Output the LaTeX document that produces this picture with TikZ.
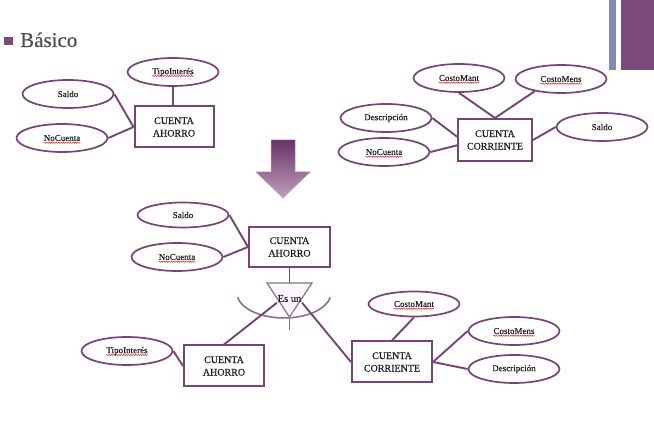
\documentclass[tikz,border=0pt]{standalone}
\usepackage{fontspec}
\setmainfont{Liberation Serif}
% regular serif, slightly thickened for the labels
\newfontfamily\labelfont{Liberation Serif}[BoldFont={Liberation Serif}, BoldFeatures={FakeBold=0.4}]
\usetikzlibrary{shapes.geometric,decorations.pathmorphing}

\definecolor{plum}{HTML}{76447A}
\definecolor{plumbar}{HTML}{7B4A7D}
\definecolor{slatebar}{HTML}{8488B4}
\definecolor{arcgray}{HTML}{8A7089}
\definecolor{titlegray}{HTML}{4D4D4D}
\definecolor{arrowdark}{HTML}{683266}
\definecolor{arrowlight}{HTML}{BFA0BE}
\definecolor{arrowedge}{HTML}{B89AB8}
\definecolor{spellred}{HTML}{E03030}
\definecolor{ink}{HTML}{1E1E1E}

\begin{document}
\begin{tikzpicture}[x=1pt,y=-1pt,
  attr/.style={ellipse, draw=plum, line width=1.7pt, fill=white,
    minimum width=91pt, minimum height=28pt, inner sep=0pt,
    text=ink, font=\labelfont\bfseries\fontsize{9}{10}\selectfont},
  word/.style={inner sep=0pt, text=ink, font=\labelfont\bfseries\fontsize{9}{10}\selectfont},
  squiggle/.style={draw=spellred, line width=0.55pt,
    decorate, decoration={snake, segment length=2.4pt, amplitude=0.6pt}},
  entity/.style={rectangle, draw=plum, line width=2pt, fill=white,
    minimum width=80pt, minimum height=41pt, align=center, text=ink,
    font=\labelfont\bfseries\fontsize{10}{12.5}\selectfont},
  link/.style={draw=plum, line width=1.9pt},
  arcline/.style={draw=arcgray, line width=1.6pt},
]
\useasboundingbox (0,0) rectangle (654,427);
\fill[white] (0,0) rectangle (654,427);

% heading
\fill[plumbar] (4,37) rectangle (13,45);
\node[anchor=base west, text=titlegray, font=\labelfont\bfseries\fontsize{21}{24}\selectfont, inner sep=0pt] (title) at (20,47) {Básico};

% corner bars
\fill[slatebar] (609,0) rectangle (616,70);
\fill[plumbar] (621,0) rectangle (654,70);

% ---- CUENTA AHORRO (upper left)
\node[attr] (saldoA) at (68,94) {Saldo};
\node[attr] (nocA) at (62,138) {};
\node[word] (nocAw) at (nocA) {NoCuenta};
\node[attr] (tipoA) at (173,72) {};
\node[word] (tipoAw) at (tipoA) {TipoInterés};
\node[entity, minimum width=79pt] (ahorroA) at (174,127) {CUENTA\\AHORRO};
\draw[link] (saldoA.east) -- (ahorroA.west);
\draw[link] (nocA.east) -- (ahorroA.west);
\draw[link] (tipoA.south) -- (tipoA.south |- ahorroA.north);

% ---- CUENTA CORRIENTE (upper right)
\node[attr] (mantB) at (459,78) {};
\node[word] (mantBw) at (mantB) {CostoMant};
\node[attr] (mensB) at (561,79) {};
\node[word] (mensBw) at (mensB) {CostoMens};
\node[attr] (descB) at (386,118) {Descripción};
\node[attr] (nocB) at (384,152) {};
\node[word] (nocBw) at (nocB) {NoCuenta};
\node[attr] (saldoB) at (602,127) {Saldo};
\node[entity, minimum width=74pt, minimum height=42pt] (corrB) at (495,140) {CUENTA\\CORRIENTE};
\draw[link] (mantB.south) -- (corrB.north);
\draw[link] (mensB.205) -- (corrB.north);
\draw[link] (descB.east) -- (corrB.175);
\draw[link] (nocB.east) -- (corrB.188);
\draw[link] (saldoB.west) -- (corrB.east);

% ---- transformation arrow
\shade[top color=arrowdark, bottom color=arrowlight, draw=arrowedge, line width=0.5pt]
  (271,140) -- (295,140) -- (295,172) -- (310,172) -- (283,198)
  -- (256,172) -- (271,172) -- cycle;

% ---- generalised entity
\node[attr, minimum height=25pt] (saldoC) at (183,215) {Saldo};
\node[attr] (nocC) at (177,257) {};
\node[word] (nocCw) at (nocC) {NoCuenta};
\node[entity, minimum width=81pt, minimum height=40pt] (ahorroC) at (289.5,247) {CUENTA\\AHORRO};
\draw[link] (saldoC.east) -- (ahorroC.west);
\draw[link] (nocC.east) -- (ahorroC.west);

% ---- "Es un" triangle with its arc
\coordinate (tL) at (267,283);
\coordinate (tR) at (312,283);
\coordinate (tB) at (289.5,317);
\draw[link] (ahorroC.south) -- (ahorroC.south |- tL);
\draw[arcline, fill=white!96!plum, line width=1.2pt] (tL) -- (tR) -- (tB) -- cycle;
\draw[arcline] (237.7,297.3) arc[start angle=170, end angle=10, x radius=47, y radius=25];
\draw[arcline] (tB) -- ++(0,13);

% ---- specialised entities
\node[attr] (tipoD) at (127,351) {};
\node[word] (tipoDw) at (tipoD) {TipoInterés};
\node[entity] (ahorroD) at (224,366) {CUENTA\\AHORRO};
\node[attr, minimum height=25pt] (mantD) at (414,304) {};
\node[word] (mantDw) at (mantD) {CostoMant};
\node[attr] (mensD) at (514,331) {};
\node[word] (mensDw) at (mensD) {CostoMens};
\node[attr] (descD) at (514,369) {Descripción};
\node[entity] (corrD) at (392,362) {CUENTA\\CORRIENTE};

\node[text=ink, font=\labelfont\bfseries\fontsize{10.5}{12}\selectfont, inner sep=0.5pt] (isa) at (289.5,298.5) {Es un};
\draw[link] (isa.south west) -- (ahorroD.north);
\draw[link] (isa.south east) -- (corrD.west);
\draw[link] (tipoD.east) -- (ahorroD.west);
\draw[link] (mantD.south) -- (corrD.north);
\draw[link] (mensD.west) -- (corrD.east);
\draw[link] (descD.west) -- (corrD.east);

% spelling marks under the flagged words
\foreach \w in {nocAw,tipoAw,mantBw,mensBw,nocBw,nocCw,tipoDw,mantDw,mensDw}
  \draw[squiggle] ([yshift=-1.8pt]\w.base west) -- ([yshift=-1.8pt]\w.base east);
\end{tikzpicture}
\end{document}
